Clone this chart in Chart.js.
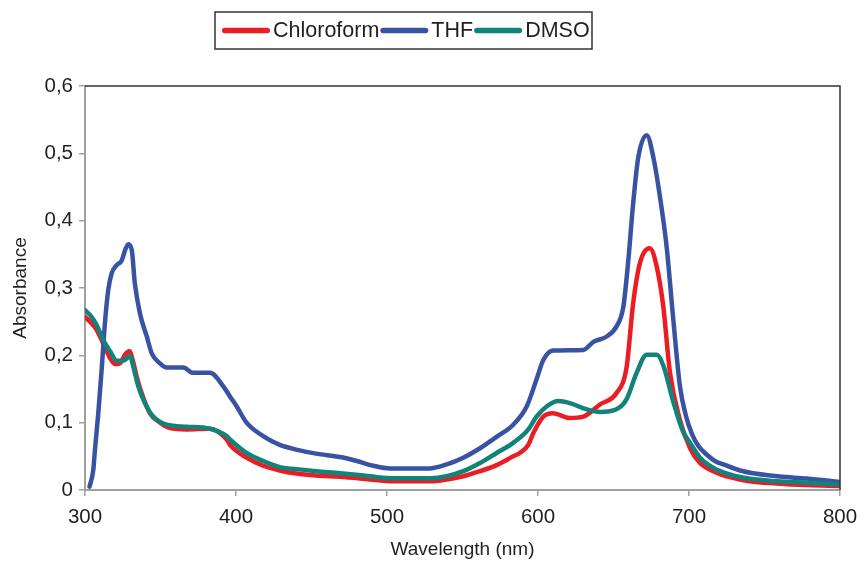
<!DOCTYPE html>
<html>
<head>
<meta charset="utf-8">
<script src="https://cdn.jsdelivr.net/npm/chart.js@4.4.1/dist/chart.umd.min.js"></script>
<style>
    body { margin: 0; background: #ffffff; }
    #wrap { width: 859px; height: 574px; }
</style>
</head>
<body>
<div id="wrap"><canvas id="spectraChart" width="859" height="574"></canvas></div>
<script>
// Absorbance spectra, values
const seriesNames = ["Chloroform", "THF", "DMSO"];
const seriesColors = ["#ec1c24", "#3953a4", "#10837a"];

const chloroformWavelength = [300, 303.3, 307.7, 312, 316.6, 319.9, 323, 326.5, 329.4, 331.6, 334.2, 337.5, 343, 349.7, 356.3, 367.4, 382.8, 393.8, 396, 407, 418, 429, 440, 453, 469, 484.6, 502, 528.5, 539.5, 550.5, 561.6, 572.6, 583.6, 588, 593.6, 597, 603.5, 610, 621, 630, 641, 652, 658.7, 663, 667.5, 674, 678.6, 683, 687.4, 694, 700.7, 707.3, 716, 727, 740, 758, 778, 800];
const chloroformAbsorbance = [0.257, 0.25, 0.238, 0.218, 0.196, 0.187, 0.188, 0.201, 0.206, 0.193, 0.169, 0.144, 0.114, 0.1, 0.092, 0.09, 0.091, 0.075, 0.067, 0.048, 0.036, 0.029, 0.0245, 0.0215, 0.0195, 0.0166, 0.013, 0.013, 0.0156, 0.0205, 0.028, 0.037, 0.05, 0.055, 0.067, 0.085, 0.109, 0.114, 0.107, 0.109, 0.127, 0.144, 0.183, 0.277, 0.337, 0.359, 0.332, 0.272, 0.174, 0.104, 0.062, 0.04, 0.028, 0.019, 0.013, 0.0097, 0.0073, 0.006];

const thfWavelength = [303, 305.5, 306.6, 308.8, 311, 313.2, 315.4, 317.7, 321, 324.3, 326.5, 328.7, 331, 333, 336.4, 340.9, 344.2, 349.7, 354, 365, 371.7, 382.8, 391.6, 396, 400.5, 407, 418, 429, 440, 453, 469, 480, 491, 502, 528, 539.5, 550.5, 561.6, 572.6, 583.6, 592.5, 599, 603.5, 610, 630, 636.7, 645.5, 652, 656.5, 659.8, 663, 666.4, 672, 676.4, 680.8, 685.2, 689.6, 694, 698, 702, 706, 712, 718, 722.8, 733.8, 744.8, 760, 778, 800];
const thfAbsorbance = [0.005, 0.03, 0.06, 0.114, 0.178, 0.248, 0.297, 0.322, 0.334, 0.341, 0.356, 0.365, 0.356, 0.307, 0.262, 0.228, 0.203, 0.188, 0.182, 0.182, 0.174, 0.174, 0.154, 0.139, 0.124, 0.1, 0.08, 0.067, 0.06, 0.054, 0.049, 0.043, 0.036, 0.032, 0.032, 0.038, 0.048, 0.062, 0.079, 0.097, 0.124, 0.164, 0.193, 0.207, 0.208, 0.22, 0.228, 0.243, 0.272, 0.341, 0.425, 0.494, 0.527, 0.494, 0.435, 0.361, 0.253, 0.154, 0.11, 0.083, 0.066, 0.052, 0.042, 0.038, 0.029, 0.024, 0.02, 0.017, 0.012];

const dmsoWavelength = [300, 303.3, 307.7, 312, 316.6, 321, 325.4, 329.8, 332, 335.3, 339.7, 345.2, 354, 367.4, 382.8, 393.8, 396, 407, 418, 429, 440, 453, 469, 484.6, 502, 528.5, 539.5, 550.5, 561.6, 572.6, 583.6, 593.6, 599, 605.7, 613.5, 621, 632, 641, 652, 658.7, 665.3, 672, 678.6, 683, 689.6, 696, 700.7, 707.3, 716, 727, 740.4, 758, 778, 800];
const dmsoAbsorbance = [0.267, 0.26, 0.245, 0.223, 0.206, 0.192, 0.192, 0.199, 0.183, 0.154, 0.129, 0.109, 0.097, 0.094, 0.091, 0.08, 0.075, 0.055, 0.043, 0.034, 0.031, 0.028, 0.025, 0.0215, 0.0176, 0.0176, 0.0205, 0.028, 0.04, 0.055, 0.07, 0.09, 0.109, 0.124, 0.132, 0.129, 0.12, 0.116, 0.12, 0.135, 0.174, 0.201, 0.201, 0.185, 0.131, 0.087, 0.07, 0.048, 0.033, 0.023, 0.0166, 0.013, 0.0107, 0.0083];

const xTicks = [300, 400, 500, 600, 700, 800];
const yTicks = [0, 0.1, 0.2, 0.3, 0.4, 0.5, 0.6];

const fontFamily = "'Liberation Sans', Arial, Helvetica, sans-serif";

const toPoints = (xs, ys) =>
{
    return xs.map((x, i) => ({x: x, y: ys[i]}));
};

const makeDataset = (index, xs, ys, order) =>
{
    return {
        label: seriesNames[index],
        data: toPoints(xs, ys),
        borderColor: seriesColors[index],
        backgroundColor: seriesColors[index],
        borderWidth: 4.5,
        borderCapStyle: 'round',
        borderJoinStyle: 'round',
        pointRadius: 0,
        cubicInterpolationMode: 'monotone',
        order: order,
    };
};

// top / right frame of the plot area, the axes draw left / bottom
const frameLines = {
    id: 'frameLines',
    afterDraw(chart)
    {
        const {ctx, chartArea} = chart;
        ctx.save();
        ctx.strokeStyle = '#333333';
        ctx.lineWidth = 1.5;
        ctx.beginPath();
        ctx.moveTo(chartArea.left, chartArea.top);
        ctx.lineTo(chartArea.right, chartArea.top);
        ctx.lineTo(chartArea.right, chartArea.bottom);
        ctx.stroke();
        ctx.restore();
    }
};

// boxed legend above the plot, items packed tight like the original
const boxedLegend = {
    id: 'boxedLegend',
    afterDraw(chart)
    {
        const ctx = chart.ctx;
        const boxLeft = 215, boxTop = 12, boxRight = 592, boxBottom = 49;
        const midY = (boxTop + boxBottom) / 2;
        const lineSpan = 48;
        ctx.save();
        ctx.strokeStyle = '#333333';
        ctx.lineWidth = 1.5;
        ctx.strokeRect(boxLeft, boxTop, boxRight - boxLeft, boxBottom - boxTop);

        ctx.font = '21.5px ' + fontFamily;
        ctx.textBaseline = 'middle';
        ctx.fillStyle = '#231f20';
        let x = boxLeft + 7;
        seriesNames.forEach((name, i) =>
        {
            ctx.strokeStyle = seriesColors[i];
            ctx.lineWidth = 5.5;
            ctx.lineCap = 'round';
            ctx.beginPath();
            ctx.moveTo(x + 2.75, midY);
            ctx.lineTo(x + lineSpan - 2.75, midY);
            ctx.stroke();
            x += lineSpan + 3;
            ctx.fillText(name, x, midY + 1);
            x += ctx.measureText(name).width + 1;
        });
        ctx.restore();
    }
};

const spectraChart = new Chart(document.getElementById('spectraChart'), {
    type: 'line',
    data: {
        datasets: [
            makeDataset(0, chloroformWavelength, chloroformAbsorbance, 3),
            makeDataset(1, thfWavelength, thfAbsorbance, 2),
            makeDataset(2, dmsoWavelength, dmsoAbsorbance, 1),
        ]
    },
    options: {
        responsive: false,
        animation: false,
        layout: {
            padding: {left: 0, right: 19, top: 86, bottom: 0}
        },
        plugins: {
            legend: {display: false},
            tooltip: {enabled: false},
        },
        scales: {
            x: {
                type: 'linear',
                min: 300,
                max: 800,
                afterBuildTicks: (scale) =>
                {
                    scale.ticks = xTicks.map(v => ({value: v}));
                },
                afterFit: (scale) =>
                {
                    scale.height = 84;
                    // keep the plot edge fixed, the end labels may overhang
                    scale.paddingLeft = 0;
                    scale.paddingRight = 0;
                },
                grid: {
                    drawOnChartArea: false,
                    drawTicks: true,
                    tickLength: 6,
                    color: '#a0a0a0',
                    lineWidth: 1.5,
                },
                border: {color: '#a0a0a0', width: 2},
                ticks: {
                    color: '#231f20',
                    font: {family: fontFamily, size: 20.5},
                    padding: 9,
                    maxRotation: 0,
                },
                title: {
                    display: true,
                    text: 'Wavelength (nm)',
                    color: '#231f20',
                    font: {family: fontFamily, size: 19},
                    padding: {top: 0, bottom: 13},
                },
            },
            y: {
                min: 0,
                max: 0.6,
                afterBuildTicks: (scale) =>
                {
                    scale.ticks = yTicks.map(v => ({value: v}));
                },
                afterFit: (scale) =>
                {
                    scale.width = 85;
                    scale.paddingTop = 0;
                    scale.paddingBottom = 0;
                },
                grid: {
                    drawOnChartArea: false,
                    drawTicks: true,
                    tickLength: 6,
                    color: '#a0a0a0',
                    lineWidth: 1.5,
                },
                border: {color: '#a0a0a0', width: 2},
                ticks: {
                    color: '#231f20',
                    font: {family: fontFamily, size: 20.5},
                    padding: 6,
                    callback: (value) => value === 0 ? '0' : value.toFixed(1).replace('.', ','),
                },
                title: {
                    display: true,
                    text: 'Absorbance',
                    color: '#231f20',
                    font: {family: fontFamily, size: 19},
                    padding: {top: 9, bottom: 0},
                },
            },
        },
    },
    plugins: [frameLines, boxedLegend],
});
</script>
</body>
</html>
